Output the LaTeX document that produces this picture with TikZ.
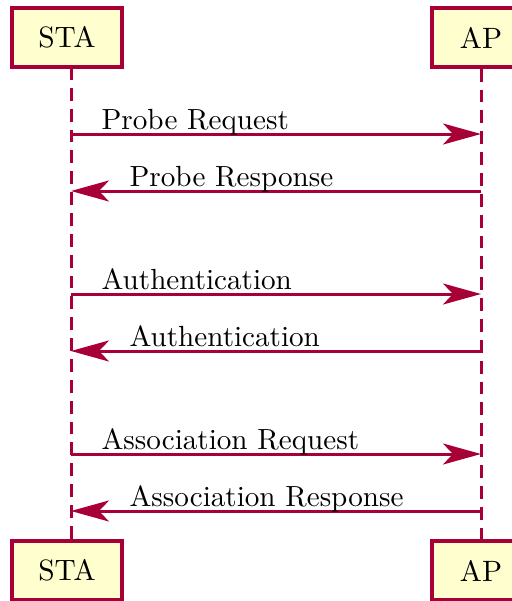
\documentclass[tikz,border=0pt]{standalone}
\usepackage{amsmath,amssymb}
\usepackage{tikz}
\usetikzlibrary{positioning, arrows.meta}

\definecolor{seqline}{HTML}{A80036}
\definecolor{seqfill}{HTML}{FEFECE}

\begin{document}
\begin{tikzpicture}
	[x=0.35pt, y=-0.35pt,
	 actor/.style={draw=seqline, fill=seqfill, line width=1.2pt, minimum height=20.65pt, inner sep=0pt, font=\fontsize{10.3}{12}\selectfont},
	 lifeline/.style={draw=seqline, line width=1.05pt, dash pattern=on 4.5pt off 2.8pt},
	 msg/.style={color=seqline, line width=1.05pt, -{Stealth[length=13.3pt, width=7.35pt, inset=3.5pt]}},
	 lbl/.style={anchor=base west, inner sep=0pt, yshift=1.6pt, text=black, font=\fontsize{10.2}{12}\selectfont}]
   \useasboundingbox (0,0) rectangle (512,601);
   % participants
   \node[actor, minimum width=38.5pt] (sta) at (67,37.5) {STA};
   \node[actor, minimum width=34.3pt] (ap)  at (481,37.5) {AP};
   \node[actor, minimum width=38.5pt] (sta_b) at (67,570.5) {STA};
   \node[actor, minimum width=34.3pt] (ap_b)  at (481,570.5) {AP};
   % lifelines
   \coordinate (sta_top) at (71,67);
   \coordinate (sta_bot) at (71,541);
   \path[lifeline] (sta_top) -- (sta_bot);
   \path[lifeline] (ap.south) -- (ap_b.north);
   % message end points
   \foreach \i/\y in {1/134, 2/191, 3/294, 4/351, 5/454, 6/511} {
     \coordinate (s_\i) at (71,\y);
     \coordinate (a_\i) at (481,\y);
   }
    \path
    (s_1) edge[msg] node[lbl, pos=0, xshift=10.2pt] {Probe Request} (a_1)
    (a_2) edge[msg] node[lbl, pos=1, xshift=20pt] {Probe Response} (s_2)
    (s_3) edge[msg] node[lbl, pos=0, xshift=10.2pt] {Authentication} (a_3)
    (a_4) edge[msg] node[lbl, pos=1, xshift=20pt] {Authentication} (s_4)
    (s_5) edge[msg] node[lbl, pos=0, xshift=10.2pt] {Association Request} (a_5)
    (a_6) edge[msg] node[lbl, pos=1, xshift=20pt] {Association Response} (s_6);
\end{tikzpicture}
\end{document}
